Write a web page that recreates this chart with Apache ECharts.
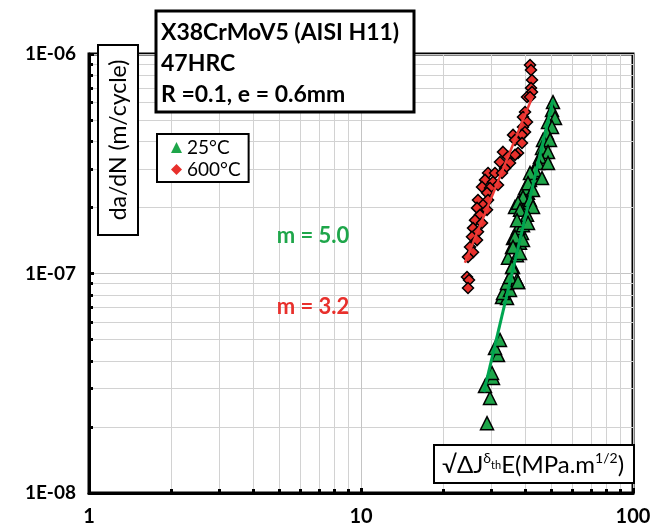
<!DOCTYPE html>
<html><head><meta charset="utf-8">
<script src="https://cdn.jsdelivr.net/npm/echarts@6/dist/echarts.min.js"></script>
<style>html,body{margin:0;padding:0;background:#fff}#c{width:655px;height:531px}</style>
</head><body><div id="c"></div>
<script>
// ---- data ----
const xTicks = [1, 10, 100];
const yTicks = [1e-8, 1e-7, 1e-6];
const seriesNames = ['25°C', '600°C'];
const data25 = [
  [29.06,2.08e-8],[29.81,2.71e-8],[28.57,3.07e-8],[30.57,3.34e-8],[30.31,3.52e-8],
  [31.89,4.25e-8],[31.09,4.58e-8],[32.43,4.98e-8],[32.99,7.81e-8],[34.42,7.73e-8],
  [33.27,8.15e-8],[35.30,8.41e-8],[37.78,9.15e-8],[34.42,9.05e-8],[37.46,9.34e-8],
  [35.30,9.64e-8],[36.22,1.07e-7],[34.71,1.18e-7],[37.46,1.21e-7],[35.91,1.32e-7],
  [38.42,1.38e-7],[36.22,1.45e-7],[39.08,1.53e-7],[37.78,1.61e-7],[39.41,1.66e-7],
  [36.84,2.01e-7],[39.08,1.95e-7],[38.42,2.12e-7],[40.77,2.10e-7],[39.08,2.23e-7],
  [41.11,2.33e-7],[40.09,2.45e-7],[41.82,2.67e-7],[43.63,2.75e-7],[42.89,2.90e-7],
  [50.80,6.04e-7],[50.38,5.56e-7],[51.67,5.11e-7],[48.70,4.90e-7],[50.38,4.65e-7],
  [48.29,4.36e-7],[46.68,4.06e-7],[49.53,4.06e-7],[46.29,3.73e-7],[48.70,3.58e-7],
  [45.51,3.40e-7],[44.75,3.19e-7],[48.70,3.19e-7],[43.63,2.96e-7],[41.82,2.87e-7],
  [46.29,2.72e-7],[41.11,2.58e-7],[42.89,2.40e-7],[39.41,2.23e-7],[41.82,2.16e-7],
  [37.78,2.10e-7],[42.89,2.01e-7],[38.42,1.95e-7],[40.77,1.85e-7],[37.46,1.75e-7],
  [41.11,1.70e-7],[36.84,1.47e-7],[39.41,1.42e-7],[36.22,1.32e-7],[38.42,1.24e-7],
  [35.91,1.07e-7],[37.78,9.15e-8]
];
const data600 = [
  [41.82,8.91e-7],[42.17,8.46e-7],[42.53,7.61e-7],[42.17,7.00e-7],[42.53,6.71e-7],
  [40.77,6.37e-7],[41.82,6.37e-7],[40.09,5.44e-7],[39.41,5.16e-7],[40.77,4.90e-7],
  [39.41,4.65e-7],[40.09,4.41e-7],[36.22,4.28e-7],[39.08,4.28e-7],[36.84,4.06e-7],
  [39.08,3.93e-7],[33.27,3.58e-7],[37.78,3.54e-7],[34.71,3.40e-7],[36.84,3.47e-7],
  [32.43,3.22e-7],[35.30,3.19e-7],[33.84,3.02e-7],[29.31,2.87e-7],[31.09,2.87e-7],
  [32.99,2.87e-7],[28.57,2.67e-7],[30.57,2.61e-7],[31.89,2.53e-7],[27.86,2.48e-7],
  [29.81,2.45e-7],[29.06,2.33e-7],[26.92,2.16e-7],[29.31,2.16e-7],[28.09,2.05e-7],
  [26.70,1.99e-7],[29.06,1.95e-7],[27.38,1.85e-7],[26.25,1.75e-7],[27.86,1.70e-7],
  [25.81,1.61e-7],[26.92,1.55e-7],[25.59,1.47e-7],[26.70,1.42e-7],[25.16,1.32e-7],
  [25.81,1.25e-7],[24.74,1.19e-7],[24.53,9.64e-8],[24.95,9.34e-8],[24.74,8.59e-8]
];
const fit25 = [[28.3,2.88e-8],[50.8,6.17e-7]];
const fit600 = [[24.1,1.12e-7],[42.5,6.3e-7]];
const slopeLabels = ['m = 5.0', 'm = 3.2'];
const titleLines = ['X38CrMoV5 (AISI H11)', '47HRC', 'R =0.1, e = 0.6mm'];
const yAxisTitle = 'da/dN (m/cycle)';

// ---- chart ----
const FONT = 'Lato, "DejaVu Sans", sans-serif';
const GREEN = '#1ea64a', RED = '#e8302c';
const chart = echarts.init(document.getElementById('c'), null, {renderer:'canvas'});

function expLabel(v){
  const e = Math.round(Math.log10(v));
  const s = Math.abs(e) < 10 ? '0' + Math.abs(e) : '' + Math.abs(e);
  return '1E' + (e < 0 ? '-' : '+') + s;
}

const axisCommon = {
  type: 'log', logBase: 10,
  axisLine: {show: true, lineStyle: {color: '#000', width: 3}},
  axisTick: {show: true, inside: true, length: 5, lineStyle: {color: '#000', width: 3}},
  minorTick: {show: true, splitNumber: 9, length: 4, lineStyle: {color: '#000', width: 3}},
  splitLine: {show: true, lineStyle: {color: '#c4c4c4', width: 1}},
  minorSplitLine: {show: true, lineStyle: {color: '#d2d2d2', width: 1}}
};

chart.setOption({
  animation: false,
  backgroundColor: '#fff',
  grid: {left: 89, right: 22, top: 54, bottom: 38, show: true, borderColor: '#000', borderWidth: 3, backgroundColor: 'transparent'},
  xAxis: Object.assign({}, axisCommon, {
    min: xTicks[0], max: xTicks[xTicks.length-1],
    axisLabel: {color: '#000', fontFamily: FONT, fontWeight: 'bold', fontSize: 20, margin: 14,
      formatter: v => xTicks.indexOf(v) >= 0 ? String(v) : ''}
  }),
  yAxis: Object.assign({}, axisCommon, {
    min: yTicks[0], max: yTicks[yTicks.length-1],
    axisLabel: {color: '#000', fontFamily: FONT, fontWeight: 'bold', fontSize: 19, margin: 13,
      formatter: v => expLabel(v)}
  }),
  legend: {
    data: seriesNames, orient: 'vertical', left: 157, top: 134,
    backgroundColor: '#fff', borderColor: '#000', borderWidth: 2,
    padding: [4, 8, 3, 14], itemGap: 3, itemWidth: 11, itemHeight: 11,
    itemStyle: {borderWidth: 0},
    textStyle: {fontFamily: FONT, fontSize: 19, color: '#000'}
  },
  series: [
    {name: seriesNames[0], type: 'scatter', data: data25, symbol: 'triangle', symbolSize: 13,
      itemStyle: {color: GREEN, borderColor: '#000', borderWidth: 1.5, opacity: 1}, z: 3},
    {name: seriesNames[1], type: 'scatter', data: data600, symbol: 'diamond', symbolSize: 11,
      itemStyle: {color: RED, borderColor: '#000', borderWidth: 1.5, opacity: 1}, z: 3},
    {name: 'fit25', type: 'line', data: fit25, showSymbol: false, symbol: 'none',
      lineStyle: {color: '#00a651', width: 3}, z: 4, silent: true},
    {name: 'fit600', type: 'line', data: fit600, showSymbol: false, symbol: 'none',
      lineStyle: {color: '#ee3a36', width: 2.5}, z: 4, silent: true}
  ],
  graphic: [
    {type: 'rect', z: 100, shape: {x: 156, y: 11, width: 258, height: 101},
      style: {fill: '#fff', stroke: '#000', lineWidth: 3}},
    {type: 'text', z: 101, x: 161, y: 33, style: {text: titleLines[0], font: 'bold 23px ' + FONT, fill: '#000', verticalAlign: 'middle'}},
    {type: 'text', z: 101, x: 161, y: 64, style: {text: titleLines[1], font: 'bold 23px ' + FONT, fill: '#000', verticalAlign: 'middle'}},
    {type: 'text', z: 101, x: 161, y: 95, style: {text: titleLines[2], font: 'bold 23px ' + FONT, fill: '#000', verticalAlign: 'middle'}},
    {type: 'rect', z: 100, shape: {x: 98, y: 45, width: 40, height: 190},
      style: {fill: '#fff', stroke: '#000', lineWidth: 2}},
    {type: 'text', z: 101, x: 119, y: 140, rotation: Math.PI/2,
      style: {text: yAxisTitle, font: '23px ' + FONT, fill: '#000', align: 'center', verticalAlign: 'middle'}},
    {type: 'rect', z: 100, shape: {x: 434, y: 445, width: 200, height: 38},
      style: {fill: '#fff', stroke: '#000', lineWidth: 2}},
    {type: 'text', z: 101, x: 533, y: 465,
      style: {text: '√ΔJ{sup|δ}{sub|th}E(MPa.m{sup|1/2})', font: '24px ' + FONT, fill: '#000',
        align: 'center', verticalAlign: 'middle',
        rich: {
          sup: {fontSize: 14, fontFamily: FONT, fill: '#000', verticalAlign: 'top', lineHeight: 28},
          sub: {fontSize: 11, fontFamily: FONT, fill: '#000', verticalAlign: 'middle', lineHeight: 28}
        }}},
    {type: 'text', z: 101, x: 313, y: 236,
      style: {text: slopeLabels[0], font: 'bold 22px ' + FONT, fill: GREEN, align: 'center', verticalAlign: 'middle'}},
    {type: 'text', z: 101, x: 313, y: 307,
      style: {text: slopeLabels[1], font: 'bold 22px ' + FONT, fill: RED, align: 'center', verticalAlign: 'middle'}}
  ]
});
</script></body></html>
